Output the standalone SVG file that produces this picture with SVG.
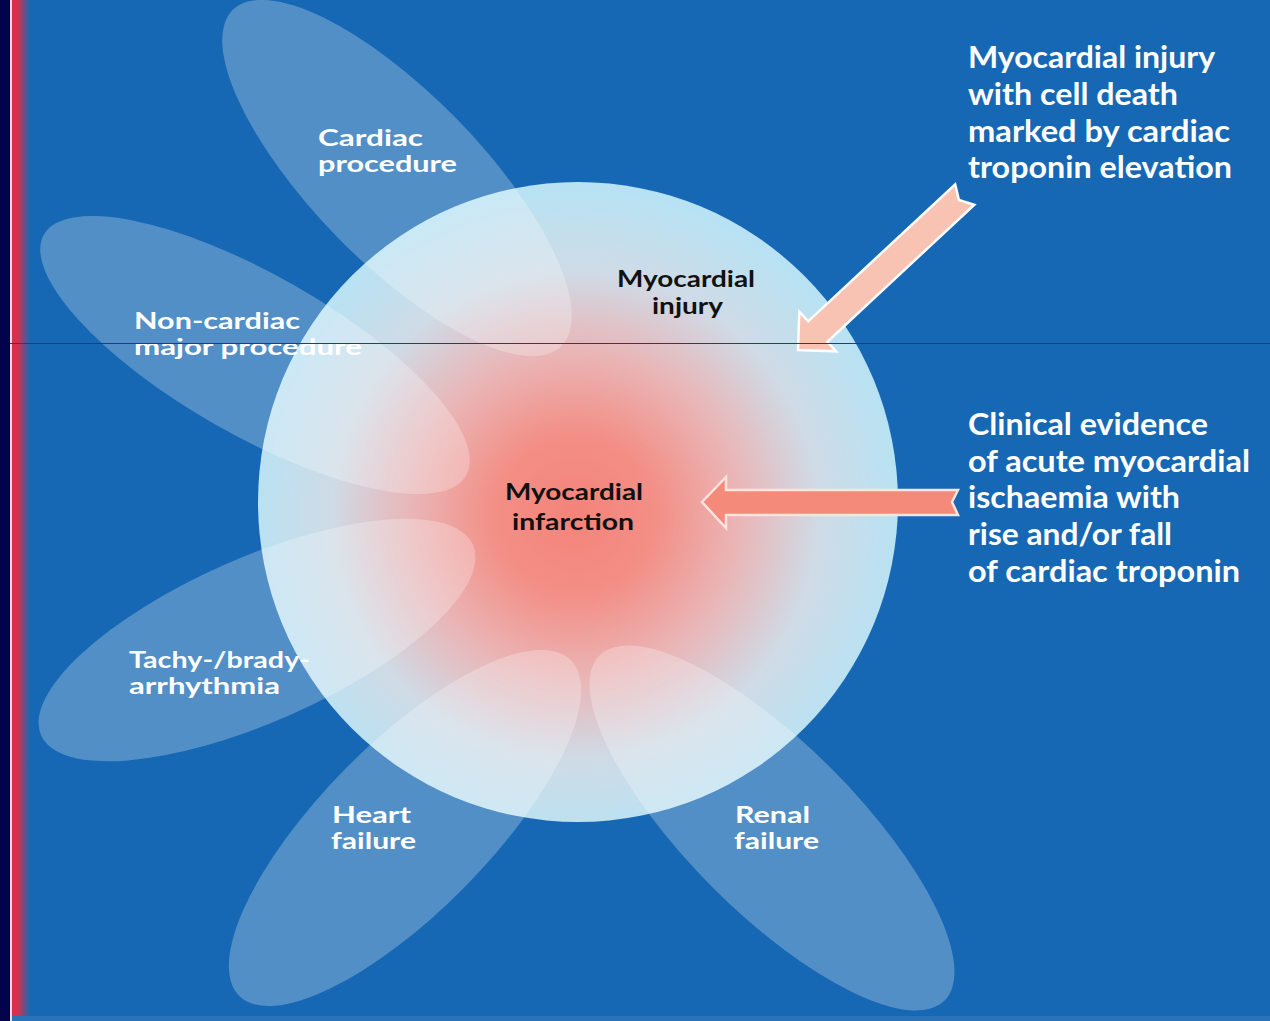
<svg xmlns="http://www.w3.org/2000/svg" width="1270" height="1021" viewBox="0 0 1270 1021">
<defs>
<radialGradient id="core" cx="575" cy="515" r="325" gradientUnits="userSpaceOnUse">
<stop offset="0" stop-color="#f4837a"/>
<stop offset="0.25" stop-color="#f38f86"/>
<stop offset="0.5" stop-color="#eab5b6"/>
<stop offset="0.75" stop-color="#cfdbe6"/>
<stop offset="1" stop-color="#b8e2f3"/>
</radialGradient>
<linearGradient id="edge" x1="0" y1="0" x2="1" y2="0">
<stop offset="0" stop-color="#d8304c"/>
<stop offset="0.3" stop-color="#d8304c"/>
<stop offset="1" stop-color="#1768b4"/>
</linearGradient>
<style>
.petal{fill:#ffffff;fill-opacity:0.26}
.lbl{font-family:Lato,"Liberation Sans",sans-serif;font-weight:700;fill:#ffffff}
.dark{font-family:Lato,"Liberation Sans",sans-serif;font-weight:700;fill:#111111;font-size:23px}
.side{font-size:30px}
.pl{font-size:22px}
</style>
</defs>
<rect x="0" y="0" width="1270" height="1021" fill="#1768b4"/>
<rect x="12" y="0" width="18" height="1021" fill="url(#edge)"/>
<rect x="0" y="0" width="10" height="1021" fill="#03034c"/>
<rect x="10" y="0" width="2" height="1021" fill="#f2d6e0"/>
<rect x="12" y="1016" width="1258" height="5" fill="#2a73b8"/>
<g id="circle">
<circle cx="578" cy="502" r="320" fill="url(#core)"/>
</g>
<g id="petal-cardiac">
<ellipse class="petal" cx="397" cy="178" rx="235" ry="84" transform="rotate(45.7 397 178)"/>
<text class="lbl pl" x="318" y="146" textLength="105" lengthAdjust="spacingAndGlyphs">Cardiac</text>
<text class="lbl pl" x="318" y="172" textLength="139" lengthAdjust="spacingAndGlyphs">procedure</text>
</g>
<g id="petal-noncardiac">
<ellipse class="petal" cx="255" cy="355" rx="243" ry="80" transform="rotate(29.7 255 355)"/>
<text class="lbl pl" x="134" y="329" textLength="166" lengthAdjust="spacingAndGlyphs">Non-cardiac</text>
<text class="lbl pl" x="134" y="355" textLength="228" lengthAdjust="spacingAndGlyphs">major procedure</text>
</g>
<g id="petal-arrhythmia">
<ellipse class="petal" cx="257" cy="640" rx="236" ry="82" transform="rotate(-23.8 257 640)"/>
<text class="lbl pl" x="129" y="668" textLength="181" lengthAdjust="spacingAndGlyphs">Tachy-/brady-</text>
<text class="lbl pl" x="129" y="694" textLength="151" lengthAdjust="spacingAndGlyphs">arrhythmia</text>
</g>
<g id="petal-heart">
<ellipse class="petal" cx="405" cy="828" rx="236" ry="84" transform="rotate(-45.4 405 828)"/>
<text class="lbl pl" x="332" y="823" textLength="79" lengthAdjust="spacingAndGlyphs">Heart</text>
<text class="lbl pl" x="331" y="849" textLength="85" lengthAdjust="spacingAndGlyphs">failure</text>
</g>
<g id="petal-renal">
<ellipse class="petal" cx="772" cy="828" rx="244" ry="84" transform="rotate(45 772 828)"/>
<text class="lbl pl" x="735" y="823" textLength="75" lengthAdjust="spacingAndGlyphs">Renal</text>
<text class="lbl pl" x="734" y="849" textLength="85" lengthAdjust="spacingAndGlyphs">failure</text>
</g>
<g id="injury">
<text class="dark" x="617" y="287" textLength="138" lengthAdjust="spacingAndGlyphs">Myocardial</text>
<text class="dark" x="652" y="314" textLength="71" lengthAdjust="spacingAndGlyphs">injury</text>
</g>
<g id="infarction">
<text class="dark" x="505" y="500" textLength="138" lengthAdjust="spacingAndGlyphs">Myocardial</text>
<text class="dark" x="512" y="530" textLength="122" lengthAdjust="spacingAndGlyphs">infarction</text>
</g>
<g id="note-injury">
<text class="lbl side" x="968" y="68" textLength="247" lengthAdjust="spacingAndGlyphs">Myocardial injury</text>
<text class="lbl side" x="968" y="105" textLength="210" lengthAdjust="spacingAndGlyphs">with cell death</text>
<text class="lbl side" x="968" y="142" textLength="262" lengthAdjust="spacingAndGlyphs">marked by cardiac</text>
<text class="lbl side" x="968" y="178" textLength="264" lengthAdjust="spacingAndGlyphs">troponin elevation</text>
</g>
<g id="note-infarction">
<text class="lbl side" x="968" y="435" textLength="240" lengthAdjust="spacingAndGlyphs">Clinical evidence</text>
<text class="lbl side" x="968" y="472" textLength="282" lengthAdjust="spacingAndGlyphs">of acute myocardial</text>
<text class="lbl side" x="968" y="508" textLength="212" lengthAdjust="spacingAndGlyphs">ischaemia with</text>
<text class="lbl side" x="968" y="545" textLength="204" lengthAdjust="spacingAndGlyphs">rise and/or fall</text>
<text class="lbl side" x="968" y="582" textLength="272" lengthAdjust="spacingAndGlyphs">of cardiac troponin</text>
</g>
<g id="connectors">
<polygon transform="translate(798 350) rotate(-43)" points="0,0 27,-27 27,-14 228,-14 220,0 228,14 27,14 27,27" fill="#f9c3b3" stroke="#ffffff" stroke-width="2.5" stroke-linejoin="miter"/>
<polygon transform="translate(702 502)" points="0,0 24,-25 24,-12 256,-12 250,0 256,13 24,13 24,26" fill="#f48a7a" stroke="#fde3de" stroke-width="2.5" stroke-linejoin="miter"/>
</g>
<line x1="10" y1="343.5" x2="1270" y2="343.5" stroke="#1f3b8c" stroke-width="1"/>
</svg>
